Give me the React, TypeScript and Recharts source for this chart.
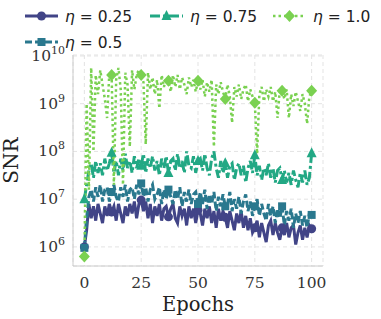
import React from "react";
import { LineChart, Line, XAxis, YAxis, CartesianGrid } from "recharts";

// log10(SNR) per epoch
const snr025 = [
  6.0, 6.35, 6.9, 6.6, 6.85, 6.55, 6.9, 6.7, 6.5, 6.85, 6.65, 6.9, 6.73, 6.85, 6.55, 6.9, 6.7, 6.5, 6.85, 6.65,
  6.9, 6.7, 6.95, 6.6, 6.9, 6.98, 6.75, 6.95, 6.6, 6.9, 6.5, 6.85, 6.65, 6.9, 6.55, 6.8, 6.85, 6.63, 6.8, 6.9,
  6.6, 6.5, 6.85, 6.65, 6.8, 6.45, 6.85, 6.6, 6.8, 6.5, 6.77, 6.7, 6.45, 6.8, 6.6, 6.85, 6.5, 6.75, 6.4, 6.8,
  6.55, 6.75, 6.62, 6.4, 6.75, 6.55, 6.35, 6.7, 6.5, 6.75, 6.4, 6.65, 6.35, 6.6, 6.3, 6.4, 6.55, 6.2, 6.5, 6.3,
  6.1, 6.45, 6.55, 6.25, 6.5, 6.3, 6.15, 6.4, 6.25, 6.5, 6.2, 6.4, 6.45, 6.05, 6.3, 6.45, 6.15, 6.4, 6.2, 6.45,
  6.38,
];
const snr05 = [
  5.98, 6.6, 7.05, 7.2, 6.95, 7.25, 7.05, 7.3, 6.95, 7.2, 7.25, 6.95, 7.15, 7.3, 7.05, 6.95, 7.25, 7.05, 7.3, 6.95,
  7.2, 7.25, 7.0, 7.3, 7.1, 7.33, 7.05, 7.25, 6.95, 7.2, 7.3, 7.0, 7.1, 7.25, 6.9, 7.2, 7.0, 7.2, 7.05, 6.9,
  7.2, 7.0, 7.25, 6.85, 7.15, 6.95, 7.2, 6.9, 7.1, 7.15, 6.9, 7.15, 6.9, 7.2, 6.8, 7.1, 6.9, 7.15, 6.75, 7.05,
  6.85, 7.1, 6.85, 6.9, 7.15, 6.75, 7.0, 6.8, 7.05, 6.7, 6.95, 7.1, 6.75, 6.95, 6.65, 6.85, 7.0, 6.65, 6.9, 6.7,
  6.55, 6.9, 6.65, 6.85, 6.5, 6.8, 6.6, 6.85, 6.45, 6.75, 6.55, 6.8, 6.4, 6.7, 6.5, 6.75, 6.45, 6.65, 6.4, 6.7,
  6.67,
];
const snr075 = [
  7.0, 7.3, 7.6, 7.75, 7.45, 7.8, 7.55, 7.75, 7.5, 7.85, 7.6, 7.75, 7.97, 7.55, 7.8, 7.5, 7.85, 7.6, 7.95, 7.65,
  7.8, 7.55, 7.9, 7.65, 7.85, 7.7, 7.95, 7.55, 7.85, 7.65, 7.9, 7.6, 7.8, 7.5, 7.85, 7.65, 7.9, 7.55, 7.8, 7.85,
  7.6, 7.95, 7.65, 7.8, 7.55, 8.0, 7.7, 7.65, 7.9, 7.55, 7.8, 7.85, 7.6, 7.95, 7.65, 7.5, 7.85, 8.0, 7.65, 7.45,
  7.8, 7.55, 7.75, 7.45, 7.7, 7.75, 7.4, 7.65, 7.75, 7.5, 7.7, 7.35, 7.65, 7.8, 7.55, 7.92, 7.5, 7.7, 7.4, 7.65,
  7.5, 7.75, 7.45, 7.65, 7.35, 7.6, 7.65, 7.4, 7.6, 7.35, 7.55, 7.3, 7.6, 7.4, 7.25, 7.55, 7.35, 7.6, 7.3, 7.45,
  7.96,
];
const snr10 = [
  5.8, 9.0, 7.2, 9.75, 8.0, 9.6, 9.2, 9.7, 9.4, 9.1, 8.7, 9.65, 9.6, 7.3, 9.5, 9.75, 9.3, 7.3, 9.65, 9.4,
  8.1, 9.7, 9.3, 9.6, 9.72, 9.6, 9.45, 8.15, 9.65, 9.3, 9.55, 9.2, 9.5, 8.9, 9.6, 9.35, 9.55, 9.48, 9.25, 9.6,
  9.35, 9.6, 9.3, 9.55, 9.4, 9.2, 9.55, 9.35, 9.5, 9.25, 9.48, 9.3, 9.5, 9.15, 9.45, 9.25, 9.5, 8.1, 9.4, 9.2,
  9.45, 9.25, 9.1, 9.4, 9.15, 8.6, 9.35, 9.15, 9.4, 9.1, 9.3, 9.4, 9.05, 9.3, 9.15, 9.02, 7.95, 9.2, 9.35, 9.05,
  9.3, 9.15, 9.35, 9.05, 9.25, 8.7, 9.3, 9.27, 9.1, 9.3, 8.7, 9.2, 8.95, 9.25, 9.05, 8.85, 9.2, 9.0, 8.58, 9.15,
  9.27,
];

const epochs = snr025.map((_, i) => i);
const markIdx = [0, 12, 25, 37, 50, 62, 75, 87, 100];
const xTicks = [0, 25, 50, 75, 100];
const yTicks = [6, 7, 8, 9, 10];

const series = [
  { key: "s025", label: "0.25", data: snr025, color: "#414487", dash: undefined, width: 3, marker: "circle" },
  { key: "s05", label: "0.5", data: snr05, color: "#2a788e", dash: "7 3", width: 3, marker: "square" },
  { key: "s075", label: "0.75", data: snr075, color: "#22a884", dash: "10 3 3 3", width: 3, marker: "triangle" },
  { key: "s10", label: "1.0", data: snr10, color: "#7ad151", dash: "2.5 3", width: 2.5, marker: "diamond" },
];

const rows = epochs.map((e, i) => {
  const r: any = { epoch: e };
  series.forEach((s) => (r[s.key] = s.data[i]));
  return r;
});

function Marker({ kind, cx, cy, color }: any) {
  if (kind === "circle") return <circle cx={cx} cy={cy} r={4.5} fill={color} />;
  if (kind === "square") return <rect x={cx - 4} y={cy - 4} width={8} height={8} fill={color} />;
  if (kind === "triangle")
    return <polygon points={`${cx},${cy - 6} ${cx - 5},${cy + 4} ${cx + 5},${cy + 4}`} fill={color} />;
  return <polygon points={`${cx},${cy - 6} ${cx + 5.5},${cy} ${cx},${cy + 6} ${cx - 5.5},${cy}`} fill={color} />;
}

const serif = "'DejaVu Serif', serif";
const sans = "'DejaVu Sans', sans-serif";

function YTick({ x, y, payload }: any) {
  return (
    <text x={x} y={y + 5} textAnchor="end" fontFamily={serif} fontSize={15.5} fill="#333">
      <tspan>10</tspan>
      <tspan dy={-7} fontSize={11}>
        {payload.value}
      </tspan>
    </text>
  );
}

function YLabel({ viewBox }: any) {
  const cy = viewBox.y + viewBox.height / 2;
  return (
    <text
      x={18}
      y={cy}
      transform={`rotate(-90 18 ${cy})`}
      textAnchor="middle"
      fontFamily={serif}
      fontSize={20}
      fill="#222"
    >
      SNR
    </text>
  );
}

const legendPos = [
  { x: 25, y: 16 },
  { x: 25, y: 42 },
  { x: 150, y: 16 },
  { x: 273, y: 16 },
];

function Legend() {
  return (
    <svg width={381} height={60} style={{ position: "absolute", left: 0, top: 0, pointerEvents: "none" }}>
      {series.map((s, i) => {
        const p = legendPos[i];
        return (
          <g key={s.key}>
            <line x1={p.x} x2={p.x + 33} y1={p.y} y2={p.y} stroke={s.color} strokeWidth={s.width} strokeDasharray={s.dash} />
            <Marker kind={s.marker} cx={p.x + 16.5} cy={p.y} color={s.color} />
            <text x={p.x + 40} y={p.y + 5.5} fontFamily={sans} fontSize={15.5} fill="#222">
              <tspan fontStyle="italic">η</tspan>
              <tspan> = {s.label}</tspan>
            </text>
          </g>
        );
      })}
    </svg>
  );
}

export default function App() {
  return (
    <div style={{ position: "absolute", left: 0, top: 0, width: 381, height: 319, background: "#fff" }}>
      <LineChart width={381} height={319} data={rows} margin={{ top: 55, right: 58, left: 0, bottom: 0 }}>
        <CartesianGrid stroke="#e3e3e3" strokeDasharray="4 3" />
        <XAxis
          dataKey="epoch"
          type="number"
          domain={[-5, 105]}
          ticks={xTicks}
          height={53}
          tickLine={false}
          tickMargin={5}
          stroke="#cccccc"
          tick={{ fontFamily: serif, fontSize: 15.5, fill: "#333" }}
          label={{ value: "Epochs", position: "insideBottom", offset: 8, fontFamily: serif, fontSize: 19.5, fill: "#222" }}
        />
        <YAxis
          type="number"
          domain={[5.6, 10.02]}
          ticks={yTicks}
          allowDataOverflow
          width={73}
          tickLine={false}
          stroke="#cccccc"
          tick={<YTick />}
          label={<YLabel />}
        />
        {series.map((s) => (
          <Line
            key={s.key}
            dataKey={s.key}
            type="linear"
            stroke={s.color}
            strokeWidth={s.width}
            strokeDasharray={s.dash}
            isAnimationActive={false}
            dot={(props: any) =>
              markIdx.includes(props.index) ? (
                <Marker key={`${s.key}-${props.index}`} kind={s.marker} cx={props.cx} cy={props.cy} color={s.color} />
              ) : (
                <g key={`${s.key}-${props.index}`} />
              )
            }
            activeDot={false}
          />
        ))}
      </LineChart>
      <Legend />
    </div>
  );
}
